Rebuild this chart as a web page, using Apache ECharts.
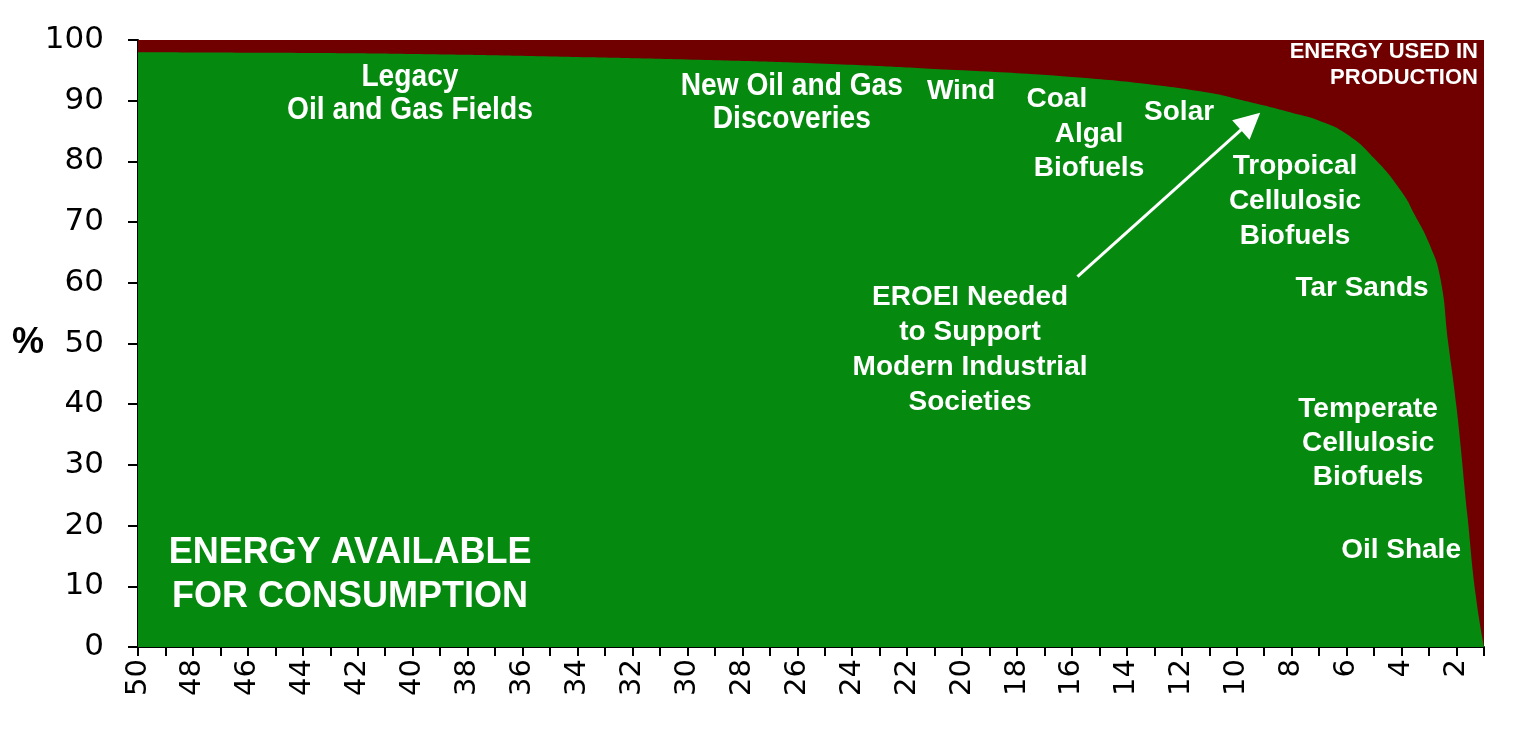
<!DOCTYPE html>
<html>
<head>
<meta charset="utf-8">
<script src="https://cdn.jsdelivr.net/npm/echarts@6/dist/echarts.min.js"></script>
<style>
html,body{margin:0;padding:0;background:#fff;}
#chart{width:1516px;height:736px;}
</style>
</head>
<body>
<div id="chart"></div>
<script>
// EROEI (x) and energy available for consumption (%)
const eroei = [50, 45, 40, 35, 30, 25, 20, 16, 13, 11, 10, 9, 8, 7, 6, 5, 4, 3.5, 3, 2.6, 2.3, 2, 1.6, 1.3, 1];
const available = [98, 97.9, 97.7, 97.3, 96.8, 96.1, 95.0, 93.9, 92.6, 91.3, 90.3, 89.2, 88.0, 86.7, 84.5, 80.5, 75, 71, 66.5, 61, 50, 39.5, 21.5, 8.5, 0];
// full-height region: energy used in production fills up to 100%
const totalE = [1, 50];
const totalV = [100, 100];
// ticks
const xTicks = [50,49,48,47,46,45,44,43,42,41,40,39,38,37,36,35,34,33,32,31,30,29,28,27,26,25,24,23,22,21,20,19,18,17,16,15,14,13,12,11,10,9,8,7,6,5,4,3,2,1];
const xLabels = [50,48,46,44,42,40,38,36,34,32,30,28,26,24,22,20,18,16,14,12,10,8,6,4,2];

const GREEN = '#058a0f';
const RED = '#700000';
const bold = 'Liberation Sans, Arial, sans-serif';

function ann(coord, text, opt) {
  return {
    coord: coord,
    symbol: 'circle', symbolSize: 0,
    label: Object.assign({
      show: true, position: 'inside', formatter: text,
      color: '#ffffff', fontFamily: bold, fontWeight: 'bold',
      fontSize: 28, lineHeight: 35, align: 'center', verticalAlign: 'middle'
    }, opt || {})
  };
}

const chart = echarts.init(document.getElementById('chart'), null, {renderer: 'canvas'});
chart.setOption({
  animation: false,
  backgroundColor: '#ffffff',
  grid: {left: 138, right: 32, top: 40, bottom: 89, containLabel: false},
  xAxis: {
    type: 'value', inverse: true, min: 1, max: 50,
    splitLine: {show: false},
    axisLine: {show: true, onZero: false, lineStyle: {color: '#000', width: 2}},
    axisTick: {show: true, customValues: xTicks, length: 9, lineStyle: {color: '#000', width: 2}},
    axisLabel: {
      customValues: xLabels, rotate: 90, margin: 12,
      fontFamily: 'DejaVu Sans, Verdana, sans-serif', fontSize: 29, color: '#000'
    }
  },
  yAxis: {
    type: 'value', min: 0, max: 100, interval: 10,
    splitLine: {show: false},
    axisLine: {show: true, lineStyle: {color: '#000', width: 2}},
    axisTick: {show: true, length: 10, lineStyle: {color: '#000', width: 2}},
    axisLabel: {
      margin: 34, fontFamily: 'DejaVu Sans, Verdana, sans-serif', fontSize: 31, color: '#000'
    }
  },
  series: [
    {
      name: 'Energy used in production',
      type: 'line', symbol: 'none', silent: true, z: 1,
      data: totalE.map((e, i) => [e, totalV[i]]),
      lineStyle: {width: 0},
      areaStyle: {color: RED, opacity: 1}
    },
    {
      name: 'Energy available for consumption',
      type: 'line', symbol: 'none', silent: true, z: 2,
      smooth: 0.5,
      data: eroei.map((e, i) => [e, available[i]]),
      lineStyle: {width: 0},
      areaStyle: {color: GREEN, opacity: 1},
      markLine: {
        silent: true, animation: false,
        symbol: ['none', 'triangle'], symbolSize: 26,
        lineStyle: {color: '#fff', width: 3, type: 'solid'},
        itemStyle: {color: '#fff'},
        label: {show: false},
        data: [[{coord: [15.8, 61], symbol: 'none'}, {coord: [9.5, 86.6], symbol: 'triangle'}]]
      },
      markPoint: {
        silent: true, animation: false,
        data: [
          ann([20.04, 91.6], 'Wind'),
          ann([16.55, 90.3], 'Coal'),
          ann([15.38, 81.7], 'Algal\nBiofuels', {lineHeight: 34}),
          ann([12.1, 88.1], 'Solar'),
          ann([7.88, 73.5], 'Tropoical\nCellulosic\nBiofuels'),
          ann([5.44, 59.1], 'Tar Sands'),
          ann([19.71, 48.9], 'EROEI Needed\nto Support\nModern Industrial\nSocieties'),
          ann([5.22, 33.6], 'Temperate\nCellulosic\nBiofuels', {lineHeight: 34}),
          ann([4.02, 16.0], 'Oil Shale'),
          ann([42.28, 11.9], 'ENERGY AVAILABLE\nFOR CONSUMPTION', {fontSize: 36, lineHeight: 44}),
          ann([1.22, 95.9], 'ENERGY USED IN\nPRODUCTION', {fontSize: 22, lineHeight: 26, align: 'right'})
        ]
      }
    }
  ]
});

// condensed labels placed at data coordinates
const narrowLabels = [
  {at: [40.1, 91.2], text: 'Legacy\nOil and Gas Fields'},
  {at: [26.2, 89.6], text: 'New Oil and Gas\nDiscoveries'}
];
const g = narrowLabels.map(function (d) {
  const p = chart.convertToPixel({gridIndex: 0}, d.at);
  return {
    type: 'text', x: p[0], y: p[1], scaleX: 0.88, z: 100,
    style: {
      text: d.text, fill: '#fff', fontFamily: bold, fontWeight: 'bold',
      fontSize: 32, lineHeight: 33, align: 'center', verticalAlign: 'middle'
    }
  };
});
const o = chart.convertToPixel({gridIndex: 0}, [50, 50]);
g.push({
  type: 'text', x: 12, y: o[1], z: 100,
  style: {text: '%', fill: '#000', fontFamily: bold, fontWeight: 'bold', fontSize: 36, verticalAlign: 'middle'}
});
chart.setOption({graphic: g});
</script>
</body>
</html>
